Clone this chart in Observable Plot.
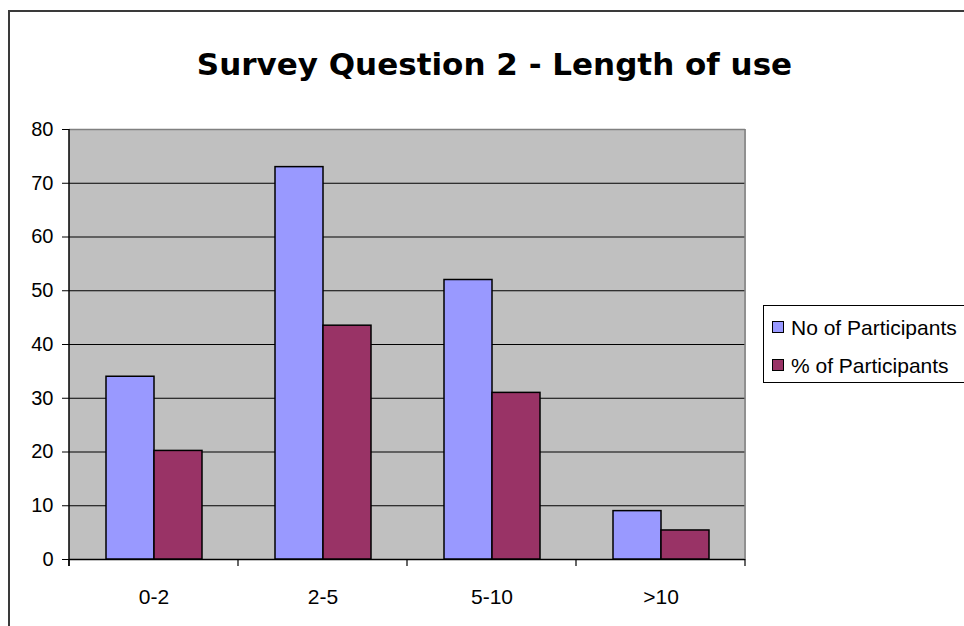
<!DOCTYPE html>
<html>
<head>
<meta charset="utf-8">
<script src="https://cdn.jsdelivr.net/npm/d3@7"></script>
<script src="https://cdn.jsdelivr.net/npm/@observablehq/plot@0.6"></script>
<style>
  html, body { margin: 0; padding: 0; background: #fff; }
  #wrap { position: relative; width: 964px; height: 626px; overflow: hidden; background: #fff; }
  #border { position: absolute; left: 8px; top: 10px; width: 1000px; height: 700px; border: 2px solid #3a3a3a; box-sizing: border-box; }
  #title { position: absolute; left: 0; top: 48.7px; width: 989px; text-align: center; font: bold 31px "DejaVu Sans", Verdana, sans-serif; line-height: 31px; color: #000; white-space: nowrap; }
  #chart { position: absolute; left: 0; top: 0; }
  #legend { position: absolute; left: 763px; top: 305px; width: 220px; height: 78px; border: 1px solid #000; box-sizing: border-box; background: #fff; }
  .item { position: absolute; left: 0; font: 21px "Liberation Sans", Arial, sans-serif; line-height: 21px; color: #000; white-space: nowrap; }
  .sw { position: absolute; width: 12px; height: 12px; border: 1px solid #000; box-sizing: border-box; }
  .lab { position: absolute; left: 27px; }
</style>
</head>
<body>
<div id="wrap">
  <div id="border"></div>
  <div id="title"></div>
  <div id="chart"></div>
  <div id="legend"></div>
</div>
<script>
const titleText = "Survey Question 2 - Length of use";
const categories = ["0-2", "2-5", "5-10", ">10"];
const series = ["No of Participants", "% of Participants"];
const noParticipants = [34, 73, 52, 9];
const pctParticipants = [20.2, 43.5, 31.0, 5.4];
const yTicks = [0, 10, 20, 30, 40, 50, 60, 70, 80];
const seriesColors = ["#9999FF", "#993366"];

document.getElementById("title").textContent = titleText;

const table = [];
categories.forEach((c, i) => {
  table.push({cat: c, series: series[0], value: noParticipants[i]});
  table.push({cat: c, series: series[1], value: pctParticipants[i]});
});

const chart = Plot.plot({
  width: 964,
  height: 626,
  marginLeft: 69,
  marginRight: 219,
  marginTop: 129,
  marginBottom: 67,
  style: {background: "transparent", fontFamily: "'Liberation Sans', Arial, sans-serif", fontSize: "20px", color: "#000", overflow: "visible"},
  fx: {domain: categories, padding: 0, label: null},
  x: {domain: series, paddingInner: 0, paddingOuter: 0.76, axis: null},
  y: {domain: [0, 80], label: null},
  color: {domain: series, range: seriesColors},
  marks: [
    Plot.frame({fill: "#C0C0C0", stroke: "#C0C0C0", strokeWidth: 1}),
    Plot.ruleY(yTicks.filter(t => t > 0 && t < 80), {stroke: "#000", strokeWidth: 1}),
    Plot.ruleY([80], {stroke: "#808080", strokeWidth: 1.5}),
    Plot.ruleY([0], {stroke: "#000", strokeWidth: 1.5}),
    Plot.barY(table, {fx: "cat", x: "series", y: "value", fill: "series", stroke: "#000", strokeWidth: 1.5}),
    Plot.axisY({ticks: yTicks, tickSize: 7, tickPadding: 9, fontSize: 20, label: null, stroke: "#000"}),
    Plot.axisFx({anchor: "bottom", tickSize: 0, tickPadding: 30, fontSize: 21, label: null})
  ]
});
document.getElementById("chart").appendChild(chart);

// Plot-area borders and category boundary ticks, positioned from Plot's own scales
const fx = chart.scale("fx");
const y = chart.scale("y");
const svg = d3.select(chart);
const left = fx.apply(categories[0]);
const right = fx.apply(categories[categories.length - 1]) + fx.bandwidth;
const y0 = y.apply(0), y80 = y.apply(80);
const g = svg.append("g");
g.append("line").attr("x1", right).attr("x2", right).attr("y1", y80).attr("y2", y0)
  .attr("stroke", "#808080").attr("stroke-width", 1.5);
g.append("line").attr("x1", left).attr("x2", left).attr("y1", y80).attr("y2", y0 + 7)
  .attr("stroke", "#000").attr("stroke-width", 1.5);
categories.forEach(c => {
  const xb = fx.apply(c);
  g.append("line").attr("x1", xb).attr("x2", xb).attr("y1", y0).attr("y2", y0 + 7).attr("stroke", "#000").attr("stroke-width", 1.2);
});
g.append("line").attr("x1", right).attr("x2", right).attr("y1", y0).attr("y2", y0 + 7).attr("stroke", "#000").attr("stroke-width", 1.2);

// Legend
const legend = document.getElementById("legend");
series.forEach((s, i) => {
  const item = document.createElement("div");
  item.className = "item";
  item.style.top = (i === 0 ? 11.2 : 49.2) + "px";
  item.style.width = "210px";
  item.style.height = "24px";
  const sw = document.createElement("div");
  sw.className = "sw";
  sw.style.left = "8px";
  sw.style.top = "4px";
  sw.style.background = seriesColors[i];
  const lab = document.createElement("div");
  lab.className = "lab";
  lab.style.top = "0px";
  lab.textContent = s;
  item.appendChild(sw);
  item.appendChild(lab);
  legend.appendChild(item);
});
</script>
</body>
</html>
